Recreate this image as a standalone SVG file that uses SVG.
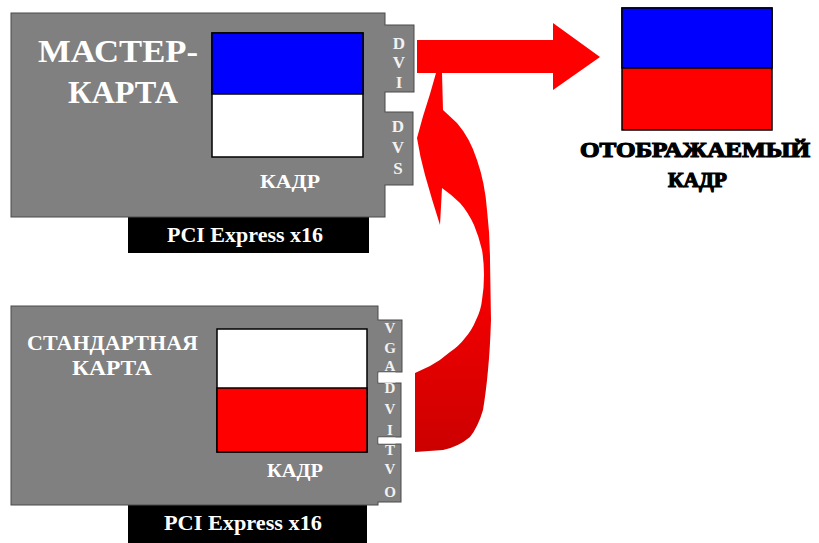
<svg xmlns="http://www.w3.org/2000/svg" width="819" height="543" viewBox="0 0 819 543">
<defs>
<style>
.card{fill:#808080;stroke:#4a4a4a;stroke-width:1}
.tab{fill:#808080;stroke:#4a4a4a;stroke-width:1}
.bar{fill:#000}
.frame{stroke:#000;stroke-width:1.5}
text{font-family:'Liberation Serif','DejaVu Serif',serif;font-weight:bold}
.wt{fill:#fff}
.port{fill:#f2f2f2;text-anchor:middle}
.bt{fill:#000;stroke:#000;stroke-width:1.2}
</style>
<linearGradient id="rg" x1="0" y1="250" x2="0" y2="452" gradientUnits="userSpaceOnUse">
<stop offset="0" stop-color="#ff0000"/>
<stop offset="1" stop-color="#cc0000"/>
</linearGradient>
</defs>
<rect width="819" height="543" fill="#fff"/>

<g id="master-card">
<rect class="bar" x="128" y="217" width="241" height="36"/>
<rect class="tab" x="380" y="25" width="34" height="67"/>
<rect class="tab" x="380" y="112" width="33" height="73"/>
<rect class="card" x="11" y="13" width="374" height="204"/>
<rect fill="#808080" x="383" y="25.5" width="3" height="66"/>
<rect fill="#808080" x="383" y="112.5" width="3" height="72"/>
<rect class="frame" fill="#fff" x="212" y="33" width="151" height="124"/>
<rect class="frame" fill="#0000ff" x="212" y="33" width="151" height="61"/>
<text class="wt" x="38" y="62" font-size="31" textLength="160" lengthAdjust="spacingAndGlyphs">МАСТЕР-</text>
<text class="wt" x="68" y="103" font-size="31" textLength="110" lengthAdjust="spacingAndGlyphs">КАРТА</text>
<text class="wt" x="260" y="188" font-size="19" textLength="60" lengthAdjust="spacingAndGlyphs">КАДР</text>
<text class="wt" x="167" y="242" font-size="20" textLength="156" lengthAdjust="spacingAndGlyphs">PCI Express x16</text>
<text class="port" x="399" y="49" font-size="17">D</text>
<text class="port" x="399" y="68" font-size="17">V</text>
<text class="port" x="399" y="88" font-size="17">I</text>
<text class="port" x="398" y="132" font-size="17">D</text>
<text class="port" x="398" y="153" font-size="17">V</text>
<text class="port" x="398" y="174" font-size="17">S</text>
</g>

<g id="standard-card">
<rect class="bar" x="128" y="505" width="239" height="38"/>
<rect class="tab" x="375" y="320" width="27" height="52"/>
<rect class="tab" x="375" y="383" width="26" height="54"/>
<rect class="tab" x="375" y="444" width="26" height="58"/>
<rect class="card" x="11" y="306" width="367" height="199"/>
<rect fill="#808080" x="376" y="320.5" width="3" height="51"/>
<rect fill="#808080" x="376" y="383.5" width="3" height="53"/>
<rect fill="#808080" x="376" y="444.5" width="3" height="57"/>
<rect fill="#fff" x="378.5" y="372.5" width="17" height="10"/>
<rect fill="#fff" x="378.5" y="437.5" width="17" height="6"/>
<rect class="frame" fill="#fff" x="217" y="329" width="150" height="123"/>
<rect class="frame" fill="#ff0000" x="217" y="388" width="150" height="64"/>
<text class="wt" x="27" y="350" font-size="22" textLength="171" lengthAdjust="spacingAndGlyphs">СТАНДАРТНАЯ</text>
<text class="wt" x="72" y="375" font-size="22" textLength="80" lengthAdjust="spacingAndGlyphs">КАРТА</text>
<text class="wt" x="267" y="477" font-size="19" textLength="56" lengthAdjust="spacingAndGlyphs">КАДР</text>
<text class="wt" x="164" y="530" font-size="20" textLength="158" lengthAdjust="spacingAndGlyphs">PCI Express x16</text>
<text class="port" x="390" y="333" font-size="15">V</text>
<text class="port" x="390" y="353" font-size="15">G</text>
<text class="port" x="390" y="371" font-size="15">A</text>
<text class="port" x="390" y="393" font-size="15">D</text>
<text class="port" x="390" y="414" font-size="15">V</text>
<text class="port" x="390" y="435" font-size="15">I</text>
<text class="port" x="390" y="455" font-size="15">T</text>
<text class="port" x="390" y="474" font-size="15">V</text>
<text class="port" x="390" y="497" font-size="15">O</text>
</g>

<g id="displayed-frame">
<rect class="frame" fill="#ff0000" x="622" y="8" width="150" height="122"/>
<rect class="frame" fill="#0000ff" x="622" y="8" width="150" height="60"/>
<text class="bt" x="580" y="157" font-size="21" textLength="230" lengthAdjust="spacingAndGlyphs">ОТОБРАЖАЕМЫЙ</text>
<text class="bt" x="668" y="187" font-size="21" textLength="59" lengthAdjust="spacingAndGlyphs">КАДР</text>
</g>

<g id="connectors">
<path fill="#ff0000" d="M417,40 H553 V23 L600,57 L553,90 V73 H417 Z"/>
<path fill="url(#rg)" d="M436,73 L442,73 L443,110 L457,123 Q470,138 477,160 Q485,183 487,210 Q490,235 490,260 L491,320 Q490,350 488,370 Q486,392 483,410 Q478,427 470,437 Q458,447 443,450 L415,452 L415,373 L430,366 Q441,360 450,352 Q459,346 465,338 Q472,330 476,320 Q481,310 482,300 Q484,288 484,275 Q484,262 482,250 Q479,237 474,225 Q468,212 460,203 Q452,195 442,188 L440,225 Q432,200 425,175 Q420,157 417,138 Q423,115 430,94 Z"/>
</g>
</svg>
